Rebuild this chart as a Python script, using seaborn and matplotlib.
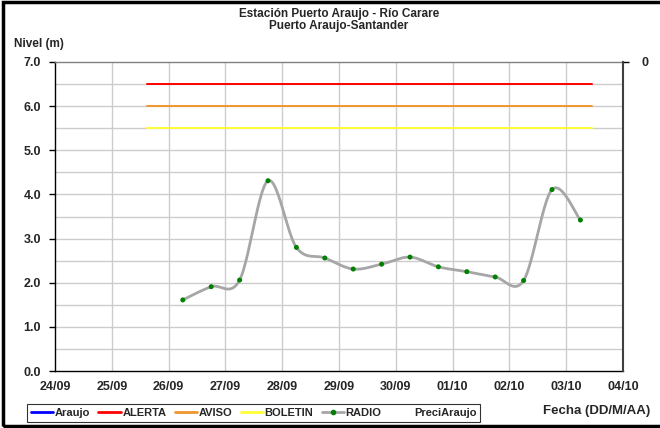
import numpy as np
import pandas as pd
import seaborn as sns
import matplotlib.pyplot as plt
from matplotlib.lines import Line2D
from matplotlib.patches import Rectangle

# Data
fechas = ["26/09 06:00", "26/09 18:00", "27/09 06:00", "27/09 18:00", "28/09 06:00",
          "28/09 18:00", "29/09 06:00", "29/09 18:00", "30/09 06:00", "30/09 18:00",
          "01/10 06:00", "01/10 18:00", "02/10 06:00", "02/10 18:00", "03/10 06:00"]
nivel = [1.61, 1.91, 2.06, 4.31, 2.80, 2.56, 2.31, 2.42, 2.58, 2.36, 2.25, 2.13, 2.05, 4.11, 3.42]
umbral_inicio = "25/09 15:00"
umbral_fin = "03/10 11:00"
alerta = 6.5
aviso = 6.0
boletin = 5.5
x_labels = ["24/09", "25/09", "26/09", "27/09", "28/09", "29/09", "30/09", "01/10", "02/10", "03/10", "04/10"]
origen = pd.Timestamp("2024-09-24 00:00")


def to_days(s):
    # "dd/mm hh:mm" -> days since 24/09
    dia, hora = s.split()
    d, m = dia.split("/")
    t = pd.to_datetime(f"2024-{m}-{d} {hora}")
    return (t - origen) / pd.Timedelta(days=1)


x = np.array([to_days(f) for f in fechas])
y = np.array(nivel)

# Excel-like smoothed line (Catmull-Rom through the points)
pts = np.column_stack([x, y])
pad = np.vstack([pts[0], pts, pts[-1]])
sx, sy = [], []
for i in range(1, len(pad) - 2):
    p0, p1, p2, p3 = pad[i - 1], pad[i], pad[i + 1], pad[i + 2]
    for t in np.linspace(0, 1, 25):
        c = 0.5 * ((2 * p1) + (-p0 + p2) * t + (2 * p0 - 5 * p1 + 4 * p2 - p3) * t ** 2
                   + (-p0 + 3 * p1 - 3 * p2 + p3) * t ** 3)
        sx.append(c[0])
        sy.append(c[1])
df_smooth = pd.DataFrame({"x": sx, "y": sy})
df_pts = pd.DataFrame({"x": x, "y": y})

sns.set_style("white")
plt.rcParams['font.family'] = ['Liberation Sans', 'DejaVu Sans']
plt.rcParams['font.weight'] = 'bold'

fig = plt.figure(figsize=(6.6, 4.28), dpi=100)
ax = fig.add_axes([55 / 660, 1 - 371 / 428, (623 - 55) / 660, (371 - 62) / 428])

# grid
for v in np.arange(0.5, 7.0, 0.5):
    ax.axhline(v, color="#cccccc", lw=1.0, zorder=0)
for d in range(1, 10):
    ax.axvline(d, color="#cccccc", lw=1.0, zorder=0)

x0, x1 = to_days(umbral_inicio), to_days(umbral_fin)
sns.lineplot(x=[x0, x1], y=[alerta, alerta], color="#ff0000", lw=1.4, ax=ax)
sns.lineplot(x=[x0, x1], y=[aviso, aviso], color="#f0962c", lw=1.4, ax=ax)
sns.lineplot(x=[x0, x1], y=[boletin, boletin], color="#ffff33", lw=1.4, ax=ax)

sns.lineplot(data=df_smooth, x="x", y="y", sort=False, estimator=None, color="#a6a6a6", lw=2.0, ax=ax)
sns.scatterplot(data=df_pts, x="x", y="y", color="#008000", s=13, edgecolor="none", zorder=5, ax=ax)

ax.set_xlim(0, 10)
ax.set_ylim(0, 7)
ax.set_xticks(range(11))
ax.set_xticklabels(x_labels)
ax.set_yticks(np.arange(0, 7.1, 1.0))
ax.set_yticklabels([f"{v:.1f}" for v in np.arange(0, 7.1, 1.0)])
ax.set_xlabel("")
ax.set_ylabel("")
ax.tick_params(axis="both", direction="out", length=4, width=1, color="black",
               labelsize=9, pad=3)
ax.tick_params(axis="y", pad=6)
for s in ["left", "bottom"]:
    ax.spines[s].set_color("black")
    ax.spines[s].set_linewidth(1)
ax.spines["top"].set_color("#808080")
ax.spines["top"].set_linewidth(1)
ax.spines["right"].set_visible(False)
for lab in ax.get_xticklabels() + ax.get_yticklabels():
    lab.set_fontweight("bold")

# secondary axis (precipitation, inverted) only showing 0
ax2 = ax.twinx()
ax2.set_ylim(10, 0)
ax2.set_yticks([0])
ax2.set_yticklabels(["0"])
ax2.tick_params(axis="y", direction="out", length=4, width=1, color="black", labelsize=9, pad=9)
ax2.spines["right"].set_color("#404040")
ax2.spines["right"].set_linewidth(1.5)
for s in ["left", "top", "bottom"]:
    ax2.spines[s].set_visible(False)
for lab in ax2.get_yticklabels():
    lab.set_fontweight("bold")

fig.text(339 / 660, 1 - 14 / 428, "Estación Puerto Araujo - Río Carare", ha="center", va="center",
         fontsize=8.5, fontweight="bold")
fig.text(339 / 660, 1 - 26 / 428, "Puerto Araujo-Santander", ha="center", va="center",
         fontsize=8.5, fontweight="bold")
fig.text(14 / 660, 1 - 44 / 428, "Nivel (m)", ha="left", va="center", fontsize=8.5, fontweight="bold")
fig.text(650 / 660, 1 - 411 / 428, "Fecha (DD/M/AA)", ha="right", va="center", fontsize=9.5, fontweight="bold")

handles = [
    Line2D([], [], color="#0000ff", lw=2),
    Line2D([], [], color="#ff0000", lw=2),
    Line2D([], [], color="#f0962c", lw=2),
    Line2D([], [], color="#ffff33", lw=2),
    Line2D([], [], color="#a6a6a6", lw=2, marker="o", markersize=3,
           markerfacecolor="#008000", markeredgecolor="#008000"),
    Line2D([], [], color="none"),
]
labels = ["Araujo", "ALERTA", "AVISO", "BOLETIN", "RADIO", "PreciAraujo"]
leg = fig.legend(handles, labels, loc="center left", bbox_to_anchor=(27 / 660, 1 - 413 / 428),
                 ncol=6, frameon=True, fancybox=False, edgecolor="black",
                 prop={"size": 8, "weight": "bold"}, handlelength=2.0, handletextpad=0.15,
                 columnspacing=0.75, borderpad=0.35, borderaxespad=0)
leg.get_frame().set_linewidth(0.8)

# outer frame
fig.patches.append(Rectangle((0.005, 0.005), 1.2, 0.99, transform=fig.transFigure,
                             fill=False, edgecolor="black", lw=2.5))

fig.savefig("out.png", dpi=100)
